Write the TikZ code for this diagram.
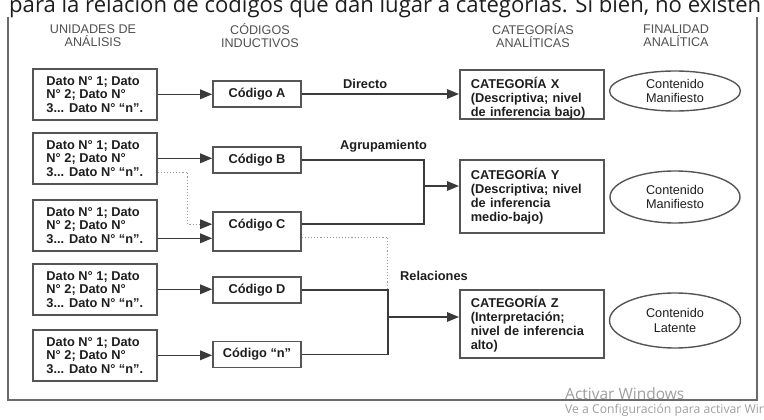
\documentclass[tikz,border=0pt]{standalone}
\usepackage{fontspec}
\usepackage{graphicx}
\setmainfont{Liberation Sans}
\newfontfamily\docfont{Open Sans}
\usetikzlibrary{arrows.meta,shapes.geometric,calc}
\definecolor{linec}{HTML}{3A3A3A}
\definecolor{boxc}{HTML}{555555}
\definecolor{headc}{HTML}{505050}
\definecolor{txtc}{HTML}{1E1E1E}
\definecolor{dotc}{HTML}{9A9A9A}
\definecolor{wmc}{HTML}{A0A0A0}
\definecolor{framec}{HTML}{6A6A6A}
\begin{document}
\begin{tikzpicture}[x=1pt,y=-1pt,
  databox/.style={draw=boxc, line width=1.6pt, rectangle, anchor=north west,
    minimum width=124pt, minimum height=51pt, inner sep=0pt, align=left,
    font=\fontsize{12.8}{13.5}\selectfont\bfseries, text=txtc},
  codebox/.style={draw=boxc, line width=1.6pt, rectangle, minimum width=88pt,
    minimum height=26pt, inner sep=0pt, font=\fontsize{12.8}{14}\selectfont\bfseries, text=txtc},
  catbox/.style={draw=boxc, line width=1.6pt, rectangle, anchor=north west,
    minimum width=144pt, inner xsep=11pt, inner ysep=0pt, text width=122pt, align=left,
    font=\fontsize{12.8}{14}\selectfont\bfseries, text=txtc},
  cattext/.style={inner sep=0pt, text width=122pt, align=left,
    font=\fontsize{12.8}{14}\selectfont\bfseries, text=txtc},
  endbox/.style={draw=boxc, line width=1.4pt, ellipse, inner sep=0pt, align=center,
    font=\fontsize{12.7}{14.5}\selectfont, text=txtc},
  head/.style={inner sep=0pt, align=center, font=\fontsize{12.6}{13.5}\selectfont, text=headc},
  lbl/.style={inner sep=0pt, anchor=west, font=\fontsize{12.8}{14}\selectfont\bfseries, text=txtc},
  line/.style={draw=linec, line width=1.5pt},
  conn/.style={line, -{Triangle[length=12pt,width=9.5pt]}},
  dotline/.style={draw=dotc, line width=1.1pt, dotted},
  dotconn/.style={dotline, -{Triangle[length=12pt,width=9.5pt,color=linec,fill=linec]}},
]
\useasboundingbox (0,0) rectangle (764,420);
\clip (0,0) rectangle (764,420);
\fill[white] (0,0) rectangle (764,420);

% cut-off text line above and frame
\node[anchor=base west, inner sep=0pt, text=txtc] (toptext) at (9,12.5)
  {\resizebox{752pt}{!}{\docfont\fontsize{20}{21}\selectfont para la relación de códigos que dan lugar a categorías. Si bien, no existen}};
\draw[draw=framec, line width=1.2pt] (8,17) -- (8,400) -- (757,400) -- (757,17);

% headers
\node[head] (h1) at (93,35.5) {UNIDADES DE\\ANÁLISIS};
\node[head] (h2) at (260,35.5) {CÓDIGOS\\INDUCTIVOS};
\node[head] (h3) at (533,35.5) {CATEGORÍAS\\ANALÍTICAS};
\node[head] (h4) at (676,35.5) {FINALIDAD\\ANALÍTICA};

% data boxes
\node[databox] (d1) at (32,68)  {Dato N° 1; Dato\\N° 2; Dato N°\\3... Dato N° “n”.};
\node[databox] (d2) at (32,132) {Dato N° 1; Dato\\N° 2; Dato N°\\3... Dato N° “n”.};
\node[databox] (d3) at (32,199) {Dato N° 1; Dato\\N° 2; Dato N°\\3... Dato N° “n”.};
\node[databox] (d4) at (32,263) {Dato N° 1; Dato\\N° 2; Dato N°\\3... Dato N° “n”.};
\node[databox] (d5) at (32,329) {Dato N° 1; Dato\\N° 2; Dato N°\\3... Dato N° “n”.};

% code boxes
\node[codebox] (cA) at (257,94) {Código A};
\node[codebox] (cB) at (257,160) {Código B};
\node[codebox, minimum height=39pt] (cC) at (257,231.5) {};
\node[inner sep=0pt, font=\fontsize{12.8}{14}\selectfont\bfseries, text=txtc] (cCt) at (257,225) {Código C};
\node[codebox] (cD) at (257,290) {Código D};
\node[codebox] (cN) at (257,354.5) {Código “n”};

% category boxes
\node[catbox, minimum height=49pt] (catX) at (459,69) {};
\begin{scope}
  \clip ($(catX.north west)+(1,1)$) rectangle ($(catX.south east)+(-1,-1)$);
  \node[cattext] (catXt) at ($(catX.center)+(0,3.5)$) {CATEGORÍA X\\(Descriptiva; nivel\\de inferencia bajo)};
\end{scope}
\node[catbox, minimum height=73pt] (catY) at (459,159) {CATEGORÍA Y\\(Descriptiva; nivel\\de inferencia\\medio-bajo)};
\node[catbox, minimum height=68pt] (catZ) at (459,289) {CATEGORÍA Z\\(Interpretación;\\nivel de inferencia\\alto)};

% ellipses
\node[endbox, minimum width=131pt, minimum height=40pt] (e1) at (675,91) {Contenido\\Manifiesto};
\node[endbox, minimum width=130pt, minimum height=52pt] (e2) at (675,197) {Contenido\\Manifiesto};
\node[endbox, minimum width=131pt, minimum height=55pt] (e3) at (675,320.5) {Contenido\\Latente};

% data -> codes
\draw[conn] (d1.east) -- (d1.east -| cA.west);
\draw[conn] (d2.east) -- (d2.east -| cB.west);
\coordinate (d2dot) at ($(d2.east)+(0,14)$);
\coordinate (cCin1) at ($(cC.north west)+(0,13)$);
\draw[dotconn] (d2dot) -- ++(30,0) |- (cCin1);
\coordinate (d3out) at ($(d3.east)+(0,13)$);
\draw[conn] (d3out) -- (d3out -| cC.west);
\draw[conn] (d4.east) -- (d4.east -| cD.west);
\draw[conn] (d5.east) -- (d5.east -| cN.west);

% Directo
\draw[conn] (cA.east) -- (cA.east -| catX.west);
\node[lbl] (ldir) at (343,84) {Directo};

% Agrupamiento
\coordinate (cCout) at ($(cC.north east)+(0,13)$);
\coordinate (agx) at ($(cB.east)+(122,0)$);
\draw[line] (cB.east) -- (agx) -- (agx |- cCout) -- (cCout);
\coordinate (agmid) at ($(agx)+(0,26)$);
\draw[conn] (agmid) -- (agmid -| catY.west);
\node[lbl] (lagr) at (340,146) {Agrupamiento};

% Relaciones
\coordinate (cCdot) at ($(cC.north east)+(0,26)$);
\coordinate (rx) at ($(cCdot)+(86,0)$);
\draw[dotline] (cCdot) -- (rx) -- (rx |- cD.east);
\draw[line] (cD.east) -- (cD.east -| rx) -- (cN.east -| rx) -- (cN.east);
\coordinate (relmid) at ($(cD.east -| rx)+(0,27)$);
\draw[conn] (relmid) -- (relmid -| catZ.west);
\node[lbl] (lrel) at (400,276) {Relaciones};

% watermark
\node[anchor=base west, inner sep=0pt, font=\docfont\fontsize{15.5}{17}\selectfont, text=wmc] (wm1) at (565,399.5) {Activar Windows};
\node[anchor=base west, inner sep=0pt, font=\docfont\fontsize{12.2}{13}\selectfont, text=wmc] (wm2) at (565,413) {Ve a Configuración para activar Windows.};
\end{tikzpicture}
\end{document}
